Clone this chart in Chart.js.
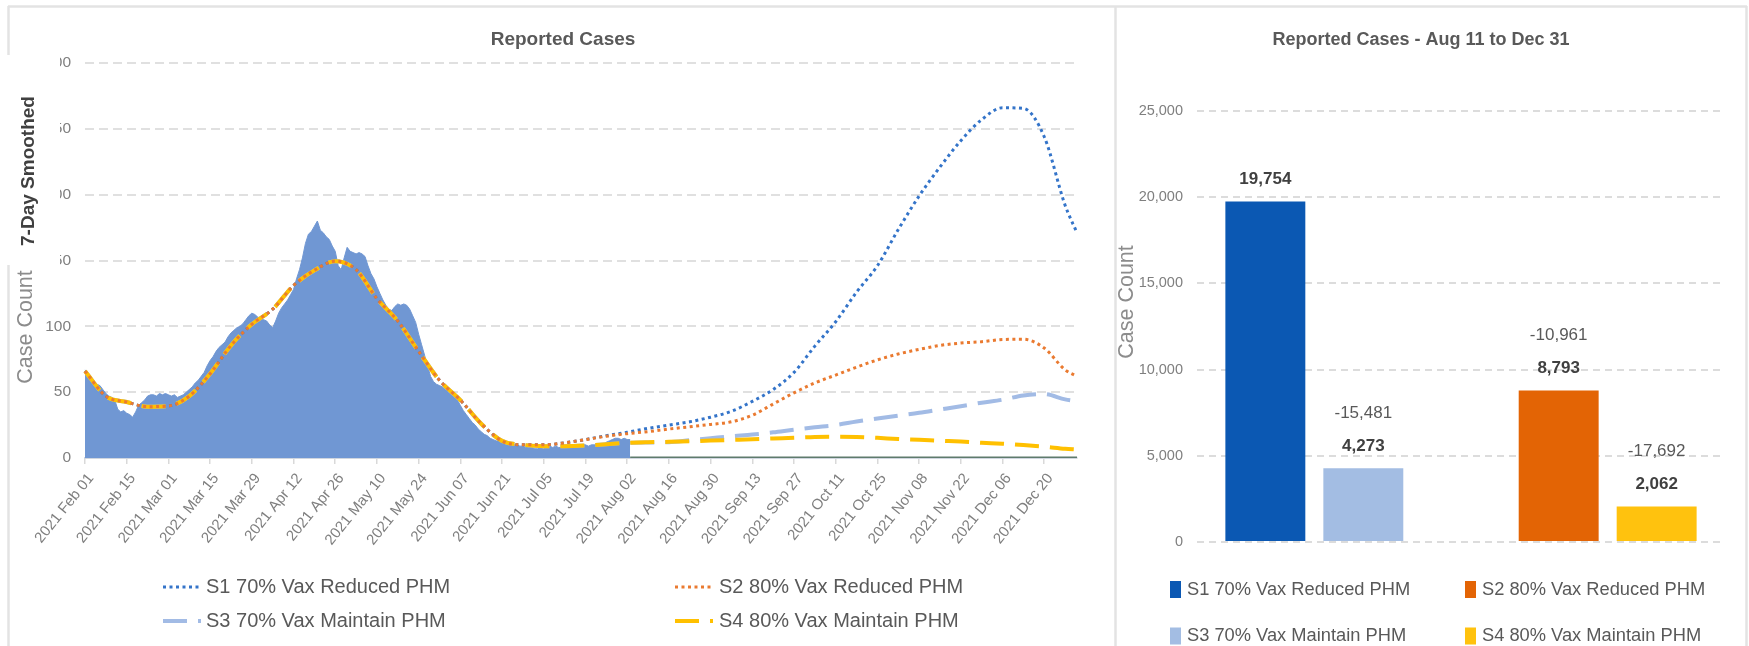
<!DOCTYPE html>
<html>
<head>
<meta charset="utf-8">
<title>Reported Cases</title>
<script src="https://cdn.jsdelivr.net/npm/chart.js@4.4.1/dist/chart.umd.min.js"></script>
<style>
  html, body { margin: 0; padding: 0; background: #fff; }
  #wrap { position: relative; width: 1749px; height: 646px; overflow: hidden; }
  #trend { position: absolute; left: 0; top: 0; width: 1117px; height: 646px; }
  #totals { position: absolute; left: 1117px; top: 0; width: 632px; height: 646px; }
</style>
</head>
<body>
<div id="wrap">
  <canvas id="trend" width="1117" height="646"></canvas>
  <canvas id="totals" width="632" height="646"></canvas>
</div>
<script>
const FONT = "'Liberation Sans', Arial, sans-serif";
Chart.defaults.font.family = FONT;

// ---- data ----
const MONTHS = ['Jan', 'Feb', 'Mar', 'Apr', 'May', 'Jun', 'Jul', 'Aug', 'Sep', 'Oct', 'Nov', 'Dec'];
const dayLabels = [];
for (let i = 0; i < 334; i++) {
  const d = new Date(Date.UTC(2021, 1, 1 + i));
  dayLabels.push('2021 ' + MONTHS[d.getUTCMonth()] + ' ' + String(d.getUTCDate()).padStart(2, '0'));
}

const scenarioNames = [
  'S1 70% Vax Reduced PHM',
  'S2 80% Vax Reduced PHM',
  'S3 70% Vax Maintain PHM',
  'S4 80% Vax Maintain PHM'
];

// daily reported cases, Feb 01 onward
const reportedDaily = [
  67, 63, 60, 58, 56, 55, 52, 49, 47, 46, 44, 37, 35, 36, 34, 33, 31, 35, 40, 42,
  44, 47, 48, 48, 47, 49, 48, 49, 48, 47, 48, 46, 47, 48, 50, 52, 54, 57, 59, 62,
  65, 70, 74, 77, 81, 84, 86, 88, 92, 95, 97, 99, 100, 102, 105, 108, 110, 109, 107, 106,
  105, 104, 101, 99, 104, 110, 114, 117, 120, 124, 128, 136, 143, 152, 163, 170, 172, 176, 180, 173,
  171, 168, 166, 161, 157, 146, 143, 152, 160, 157, 156, 155, 156, 155, 153, 146, 140, 136, 130, 125,
  120, 116, 113, 112, 115, 117, 116, 117, 116, 113, 108, 103, 94, 86, 78, 70, 62, 58, 56, 55,
  54, 52, 50, 48, 46, 44, 40, 36, 33, 30, 27, 25, 22, 20, 18, 17, 15, 14, 13, 13,
  12, 12, 11, 11, 10, 10, 9, 9, 8, 8, 8, 7, 7, 8, 7, 8, 9, 8, 9, 8,
  8, 9, 9, 8, 9, 10, 9, 10, 10, 9, 10, 10, 11, 10, 10, 12, 13, 14, 15, 15,
  14, 15, 14, 14
];
const reportedTail = dayLabels.map((_, i) => (i >= reportedDaily.length - 1 ? 0 : null));

// 7-day smoothed, sampled weekly
const smoothDays = [
  0, 7, 14, 21, 28, 35, 42, 49, 56, 63, 70, 77, 84, 91, 98, 105, 112, 119, 126, 133, 140, 147,
  154, 161, 168, 175, 182, 189, 196, 203, 210, 217, 224, 231, 238, 245, 252, 259, 266, 273,
  280, 287, 294, 301, 308, 315, 322, 329, 333
];
const historySmoothed = [
  66, 47, 42.5, 39, 39.5, 47, 64, 85.5, 101.5, 113, 131, 142.5, 149.5, 143, 121, 104, 81, 59, 44, 26, 13, 10
];
const s1Projection = [
  10, 11.5, 14, 17, 19.5, 22.5, 25, 27.5, 31, 35.5, 43, 52, 65, 85, 103.5, 126, 146, 173.5,
  199, 221, 241, 257, 266, 265.5, 244, 192, 171
];
const s2Projection = [
  10, 11.5, 14, 16.5, 18.5, 20, 22, 23.7, 25.5, 27.5, 32.5, 41, 49.5, 57, 63, 69, 74.5, 79,
  82.5, 85.5, 87.3, 88.3, 90, 90.2, 83.5, 67, 62
];
const s3Projection = [
  9, 9, 9.5, 10.5, 11.5, 11.8, 12, 13.5, 15, 16.5, 17.8, 19.5, 21.5, 23.3, 25, 27.7, 30, 32.2,
  34.3, 36.8, 39.3, 42, 44.3, 47.5, 48.5, 44.5, 43
];
const s4Projection = [
  9, 9, 9.5, 10.5, 11.5, 12, 12.3, 12.8, 13.2, 13.7, 14.2, 14.8, 15.3, 16, 16.2, 16, 15.3, 14.4,
  13.8, 13.1, 12.5, 11.6, 10.8, 9.8, 8.6, 7, 6.4
];

// totals Aug 11 - Dec 31
const caseTotals = [19754, 8793, 4273, 2062];
const scenarioGroup = [0, 1, 0, 1];

const lineColors = ['#3474c9', '#ea7a30', '#a2bbe5', '#ffc000'];
const barColors = ['#0b58b3', '#e36405', '#a3bde3', '#ffc20e'];

const toPoints = (values) => values.map((y, k) => ({ x: dayLabels[smoothDays[k]], y: y }));

// ---- helpers ----
function drawRotated(ctx, text, x, y, font, color) {
  ctx.save();
  ctx.translate(x, y);
  ctx.rotate(-Math.PI / 2);
  ctx.font = font;
  ctx.fillStyle = color;
  ctx.textAlign = 'center';
  ctx.textBaseline = 'middle';
  ctx.fillText(text, 0, 0);
  ctx.restore();
}

function line(ctx, x1, y1, x2, y2) {
  ctx.beginPath();
  ctx.moveTo(x1, y1);
  ctx.lineTo(x2, y2);
  ctx.stroke();
}

const trendDecor = {
  id: 'trendDecor',
  beforeDraw(chart) {
    const ctx = chart.ctx;
    ctx.save();
    ctx.fillStyle = '#fff';
    ctx.fillRect(0, 0, chart.width, chart.height);
    ctx.strokeStyle = '#e3e3e3';
    ctx.lineWidth = 2.5;
    line(ctx, 8, 6.5, chart.width, 6.5);
    line(ctx, 8.5, 6, 8.5, chart.height);
    line(ctx, 1115.5, 6, 1115.5, chart.height);
    ctx.font = 'bold 19px ' + FONT;
    ctx.fillStyle = '#595959';
    ctx.textAlign = 'center';
    ctx.textBaseline = 'middle';
    ctx.fillText('Reported Cases', 563, 40);
    ctx.restore();
  },
  afterDraw(chart) {
    const ctx = chart.ctx;
    ctx.save();
    // white label box over the top of the axis
    ctx.fillStyle = '#fff';
    ctx.fillRect(0, 55, 60, 210);
    drawRotated(ctx, '7-Day Smoothed', 29, 171, 'bold 19px ' + FONT, '#404040');
    drawRotated(ctx, 'Case Count', 26.5, 327, '21.5px ' + FONT, '#8c8c8c');

    // legend, two columns
    const cols = [{ lineX: 163, textX: 206 }, { lineX: 675, textX: 719 }];
    const rows = [587, 621];
    ctx.font = '20px ' + FONT;
    ctx.textBaseline = 'middle';
    ctx.textAlign = 'left';
    for (let i = 0; i < 4; i++) {
      const ds = chart.data.datasets[i];
      const c = cols[i % 2];
      const y = rows[Math.floor(i / 2)];
      ctx.strokeStyle = ds.borderColor;
      ctx.lineWidth = ds.borderWidth;
      ctx.setLineDash(ds.borderDash);
      ctx.lineCap = 'butt';
      line(ctx, c.lineX, y, c.lineX + 38, y);
      ctx.setLineDash([]);
      ctx.fillStyle = '#595959';
      ctx.fillText(ds.label, c.textX, y);
    }
    ctx.restore();
  }
};

const totalsDecor = {
  id: 'totalsDecor',
  beforeDraw(chart) {
    const ctx = chart.ctx;
    ctx.save();
    ctx.fillStyle = '#fff';
    ctx.fillRect(0, 0, chart.width, chart.height);
    ctx.strokeStyle = '#e3e3e3';
    ctx.lineWidth = 2.5;
    line(ctx, 0, 6.5, 630, 6.5);
    line(ctx, 629.5, 6, 629.5, chart.height);
    ctx.restore();
  },
  afterDatasetsDraw(chart) {
    const ctx = chart.ctx;
    const base = caseTotals[0];
    ctx.save();
    ctx.textAlign = 'center';
    ctx.textBaseline = 'middle';
    chart.data.datasets.forEach((ds, i) => {
      const meta = chart.getDatasetMeta(i);
      meta.data.forEach((bar, j) => {
        const v = ds.data[j].y;
        if (v === null) return;
        ctx.font = 'bold 17px ' + FONT;
        ctx.fillStyle = '#404040';
        ctx.fillText(v.toLocaleString('en-US'), bar.x, bar.y - 22);
        if (i > 0) {
          ctx.font = '17px ' + FONT;
          ctx.fillStyle = '#595959';
          ctx.fillText((v - base).toLocaleString('en-US'), bar.x, bar.y - 55);
        }
      });
    });
    ctx.restore();
  },
  afterDraw(chart) {
    const ctx = chart.ctx;
    ctx.save();
    drawRotated(ctx, 'Case Count', 10, 302, '21.5px ' + FONT, '#8c8c8c');
    const boxX = [53, 348];
    const textX = [70, 365];
    const rows = [589.5, 636];
    ctx.font = '18.3px ' + FONT;
    ctx.textBaseline = 'middle';
    ctx.textAlign = 'left';
    for (let i = 0; i < 4; i++) {
      const col = i % 2;
      const y = rows[Math.floor(i / 2)];
      ctx.fillStyle = barColors[i];
      ctx.fillRect(boxX[col], y - 8.5, 11, 17);
      ctx.fillStyle = '#595959';
      ctx.fillText(scenarioNames[i], textX[col], y);
    }
    ctx.restore();
  }
};

// ---- left: daily trend ----
const lineDash = [[3, 3.5], [3, 3.5], [24, 11], [24, 11]];
const lineWidths = [3, 3, 4, 4];
const lineOrder = [3, 1, 4, 2];
const projections = [s1Projection, s2Projection, s3Projection, s4Projection];

new Chart(document.getElementById('trend'), {
  type: 'line',
  data: {
    labels: dayLabels,
    datasets: scenarioNames.map((name, i) => ({
      label: name,
      data: toPoints(historySmoothed.concat(projections[i])),
      borderColor: lineColors[i],
      borderWidth: lineWidths[i],
      borderDash: lineDash[i],
      cubicInterpolationMode: 'monotone',
      fill: false,
      order: lineOrder[i]
    })).concat([
      {
        label: 'Reported',
        data: reportedDaily,
        fill: 'origin',
        backgroundColor: '#7097d3',
        borderColor: '#7097d3',
        borderWidth: 1,
        order: 10
      },
      {
        label: 'Reported after',
        data: reportedTail,
        borderColor: '#5e7b6d',
        borderWidth: 3,
        fill: false,
        order: 9
      }
    ])
  },
  options: {
    responsive: false,
    animation: false,
    elements: { point: { radius: 0 }, line: { tension: 0, borderCapStyle: 'butt' } },
    layout: { padding: { left: 0, right: 40, top: 63, bottom: 78 } },
    plugins: {
      legend: { display: false },
      tooltip: { enabled: false },
      title: { display: false }
    },
    scales: {
      x: {
        type: 'category',
        grid: { display: true, drawOnChartArea: false, drawTicks: true, tickLength: 6, color: '#d9d9d9', lineWidth: 1.5 },
        border: { display: true, color: '#d0d6df', width: 2 },
        ticks: {
          autoSkip: false,
          minRotation: 51,
          maxRotation: 51,
          padding: 6,
          labelOffset: 6,
          color: '#7f7f7f',
          font: { size: 15 },
          callback(value, index) {
            return index % 14 === 0 ? this.getLabelForValue(value) : null;
          }
        },
        afterFit(scale) { scale.height = 110; }
      },
      y: {
        min: 0,
        max: 300,
        ticks: { stepSize: 50, padding: 14, color: '#7f7f7f', font: { size: 15.5 } },
        grid: { color: '#e0e0e0', lineWidth: 2, drawTicks: false },
        border: { display: false, dash: [9, 5] },
        afterFit(scale) { scale.width = 85; }
      }
    }
  },
  plugins: [trendDecor]
});

// ---- right: totals ----
new Chart(document.getElementById('totals'), {
  type: 'bar',
  data: {
    datasets: scenarioNames.map((name, i) => ({
      label: name,
      data: [0, 1].map((g) => ({ x: g, y: g === scenarioGroup[i] ? caseTotals[i] : null })),
      backgroundColor: barColors[i],
      skipNull: true,
      categoryPercentage: 0.668,
      barPercentage: 0.816
    }))
  },
  options: {
    responsive: false,
    animation: false,
    layout: { padding: { left: 0, right: 24, top: 0, bottom: 104 } },
    plugins: {
      legend: { display: false },
      tooltip: { enabled: false },
      title: {
        display: true,
        text: 'Reported Cases - Aug 11 to Dec 31',
        color: '#595959',
        font: { size: 18, weight: 'bold' },
        padding: { top: 29.2, bottom: 60.2 }
      }
    },
    scales: {
      x: {
        type: 'linear',
        min: -0.4,
        max: 1.4,
        offset: false,
        display: false,
        afterBuildTicks(scale) { scale.ticks = [{ value: 0 }, { value: 1 }]; }
      },
      y: {
        min: 0,
        max: 25000,
        ticks: {
          stepSize: 5000,
          padding: 14,
          color: '#7f7f7f',
          font: { size: 14.5 },
          callback: (v) => v.toLocaleString('en-US')
        },
        grid: { color: '#dcdcdc', lineWidth: 2, drawTicks: false },
        border: { display: false, dash: [7, 5] },
        afterFit(scale) { scale.width = 80; }
      }
    }
  },
  plugins: [totalsDecor]
});
</script>
</body>
</html>
